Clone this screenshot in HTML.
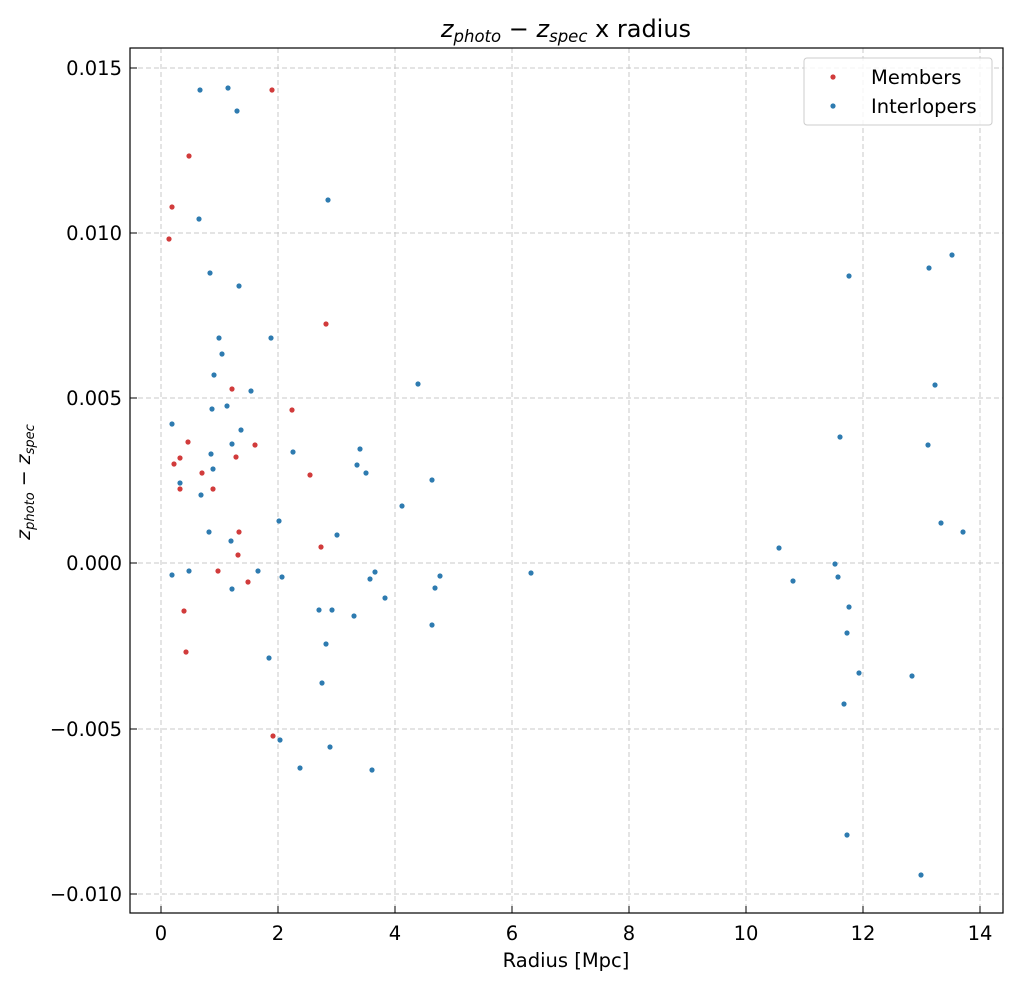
<!DOCTYPE html>
<html><head><meta charset="utf-8"><style>body{margin:0;background:#fff}</style></head><body>
<svg width="1017" height="985" xmlns="http://www.w3.org/2000/svg" font-family="'DejaVu Sans','Liberation Sans',sans-serif">
<rect width="1017" height="985" fill="#fff"/>
<g stroke="#c8c8c8" stroke-dasharray="5,3" stroke-width="1">
<line x1="161" y1="48" x2="161" y2="913"/><line x1="278" y1="48" x2="278" y2="913"/><line x1="395" y1="48" x2="395" y2="913"/><line x1="512" y1="48" x2="512" y2="913"/><line x1="629" y1="48" x2="629" y2="913"/><line x1="746" y1="48" x2="746" y2="913"/><line x1="863" y1="48" x2="863" y2="913"/><line x1="980" y1="48" x2="980" y2="913"/>
<line x1="130" y1="68" x2="1003" y2="68"/><line x1="130" y1="233" x2="1003" y2="233"/><line x1="130" y1="398" x2="1003" y2="398"/><line x1="130" y1="563" x2="1003" y2="563"/><line x1="130" y1="729" x2="1003" y2="729"/><line x1="130" y1="894" x2="1003" y2="894"/>
</g>
<g fill="#d13b3b">
<circle cx="272" cy="90" r="2.6"/><circle cx="189" cy="156" r="2.6"/><circle cx="172" cy="207" r="2.6"/><circle cx="169" cy="239" r="2.6"/><circle cx="326" cy="324" r="2.6"/><circle cx="232" cy="389" r="2.6"/><circle cx="292" cy="410" r="2.6"/><circle cx="188" cy="442" r="2.6"/><circle cx="255" cy="445" r="2.6"/><circle cx="236" cy="457" r="2.6"/><circle cx="180" cy="458" r="2.6"/><circle cx="174" cy="464" r="2.6"/><circle cx="202" cy="473" r="2.6"/><circle cx="310" cy="475" r="2.6"/><circle cx="180" cy="489" r="2.6"/><circle cx="213" cy="489" r="2.6"/><circle cx="239" cy="532" r="2.6"/><circle cx="321" cy="547" r="2.6"/><circle cx="238" cy="555" r="2.6"/><circle cx="218" cy="571" r="2.6"/><circle cx="248" cy="582" r="2.6"/><circle cx="184" cy="611" r="2.6"/><circle cx="186" cy="652" r="2.6"/><circle cx="273" cy="736" r="2.6"/>
</g>
<g fill="#2e7bb0">
<circle cx="200" cy="90" r="2.6"/><circle cx="228" cy="88" r="2.6"/><circle cx="237" cy="111" r="2.6"/><circle cx="328" cy="200" r="2.6"/><circle cx="199" cy="219" r="2.6"/><circle cx="210" cy="273" r="2.6"/><circle cx="239" cy="286" r="2.6"/><circle cx="219" cy="338" r="2.6"/><circle cx="271" cy="338" r="2.6"/><circle cx="222" cy="354" r="2.6"/><circle cx="214" cy="375" r="2.6"/><circle cx="251" cy="391" r="2.6"/><circle cx="418" cy="384" r="2.6"/><circle cx="212" cy="409" r="2.6"/><circle cx="227" cy="406" r="2.6"/><circle cx="172" cy="424" r="2.6"/><circle cx="241" cy="430" r="2.6"/><circle cx="232" cy="444" r="2.6"/><circle cx="293" cy="452" r="2.6"/><circle cx="360" cy="449" r="2.6"/><circle cx="357" cy="465" r="2.6"/><circle cx="366" cy="473" r="2.6"/><circle cx="211" cy="454" r="2.6"/><circle cx="213" cy="469" r="2.6"/><circle cx="180" cy="483" r="2.6"/><circle cx="201" cy="495" r="2.6"/><circle cx="432" cy="480" r="2.6"/><circle cx="402" cy="506" r="2.6"/><circle cx="209" cy="532" r="2.6"/><circle cx="279" cy="521" r="2.6"/><circle cx="337" cy="535" r="2.6"/><circle cx="231" cy="541" r="2.6"/><circle cx="172" cy="575" r="2.6"/><circle cx="189" cy="571" r="2.6"/><circle cx="258" cy="571" r="2.6"/><circle cx="282" cy="577" r="2.6"/><circle cx="375" cy="572" r="2.6"/><circle cx="370" cy="579" r="2.6"/><circle cx="440" cy="576" r="2.6"/><circle cx="435" cy="588" r="2.6"/><circle cx="232" cy="589" r="2.6"/><circle cx="319" cy="610" r="2.6"/><circle cx="332" cy="610" r="2.6"/><circle cx="354" cy="616" r="2.6"/><circle cx="385" cy="598" r="2.6"/><circle cx="432" cy="625" r="2.6"/><circle cx="269" cy="658" r="2.6"/><circle cx="326" cy="644" r="2.6"/><circle cx="322" cy="683" r="2.6"/><circle cx="280" cy="740" r="2.6"/><circle cx="330" cy="747" r="2.6"/><circle cx="300" cy="768" r="2.6"/><circle cx="372" cy="770" r="2.6"/><circle cx="531" cy="573" r="2.6"/>
<circle cx="779" cy="548" r="2.6"/><circle cx="793" cy="581" r="2.6"/><circle cx="835" cy="564" r="2.6"/><circle cx="838" cy="577" r="2.6"/><circle cx="849" cy="607" r="2.6"/><circle cx="847" cy="633" r="2.6"/><circle cx="859" cy="673" r="2.6"/><circle cx="844" cy="704" r="2.6"/><circle cx="847" cy="835" r="2.6"/><circle cx="840" cy="437" r="2.6"/><circle cx="849" cy="276" r="2.6"/><circle cx="929" cy="268" r="2.6"/><circle cx="952" cy="255" r="2.6"/><circle cx="935" cy="385" r="2.6"/><circle cx="928" cy="445" r="2.6"/><circle cx="941" cy="523" r="2.6"/><circle cx="963" cy="532" r="2.6"/><circle cx="912" cy="676" r="2.6"/><circle cx="921" cy="875" r="2.6"/>
</g>
<rect x="130" y="48" width="873" height="865" fill="none" stroke="#000" stroke-width="1.2"/>
<g stroke="#000" stroke-width="1">
<line x1="161" y1="913" x2="161" y2="906"/><line x1="278" y1="913" x2="278" y2="906"/><line x1="395" y1="913" x2="395" y2="906"/><line x1="512" y1="913" x2="512" y2="906"/><line x1="629" y1="913" x2="629" y2="906"/><line x1="746" y1="913" x2="746" y2="906"/><line x1="863" y1="913" x2="863" y2="906"/><line x1="980" y1="913" x2="980" y2="906"/>
<line x1="130" y1="68" x2="137" y2="68"/><line x1="130" y1="233" x2="137" y2="233"/><line x1="130" y1="398" x2="137" y2="398"/><line x1="130" y1="563" x2="137" y2="563"/><line x1="130" y1="729" x2="137" y2="729"/><line x1="130" y1="894" x2="137" y2="894"/>
</g>
<g font-size="19.5" text-anchor="middle" fill="#000">
<text x="161" y="940">0</text><text x="278" y="940">2</text><text x="395" y="940">4</text><text x="512" y="940">6</text><text x="629" y="940">8</text><text x="746" y="940">10</text><text x="863" y="940">12</text><text x="980" y="940">14</text>
<text x="566" y="967">Radius [Mpc]</text>
</g>
<g font-size="19.5" text-anchor="end" fill="#000">
<text x="122" y="75">0.015</text><text x="122" y="240">0.010</text><text x="122" y="405">0.005</text><text x="122" y="570">0.000</text><text x="122" y="736">−0.005</text><text x="122" y="901">−0.010</text>
</g>
<text x="566" y="37" font-size="24" text-anchor="middle"><tspan font-style="italic">z</tspan><tspan font-style="italic" font-size="16.5" dy="5">photo</tspan><tspan dy="-5"> − </tspan><tspan font-style="italic">z</tspan><tspan font-style="italic" font-size="16.5" dy="5">spec</tspan><tspan dy="-5"> x radius</tspan></text>
<text transform="translate(30,482) rotate(-90)" font-size="19" text-anchor="middle"><tspan font-style="italic">z</tspan><tspan font-style="italic" font-size="13" dy="4">photo</tspan><tspan dy="-4"> − </tspan><tspan font-style="italic">z</tspan><tspan font-style="italic" font-size="13" dy="4">spec</tspan></text>
<rect x="804" y="58" width="188" height="67" rx="3" fill="#fff" fill-opacity="0.8" stroke="#ccc"/>
<circle cx="833" cy="77" r="2.6" fill="#d13b3b"/><circle cx="833" cy="106" r="2.6" fill="#2e7bb0"/>
<text x="871" y="84" font-size="19.5">Members</text><text x="871" y="113" font-size="19.5">Interlopers</text>
</svg>
</body></html>
